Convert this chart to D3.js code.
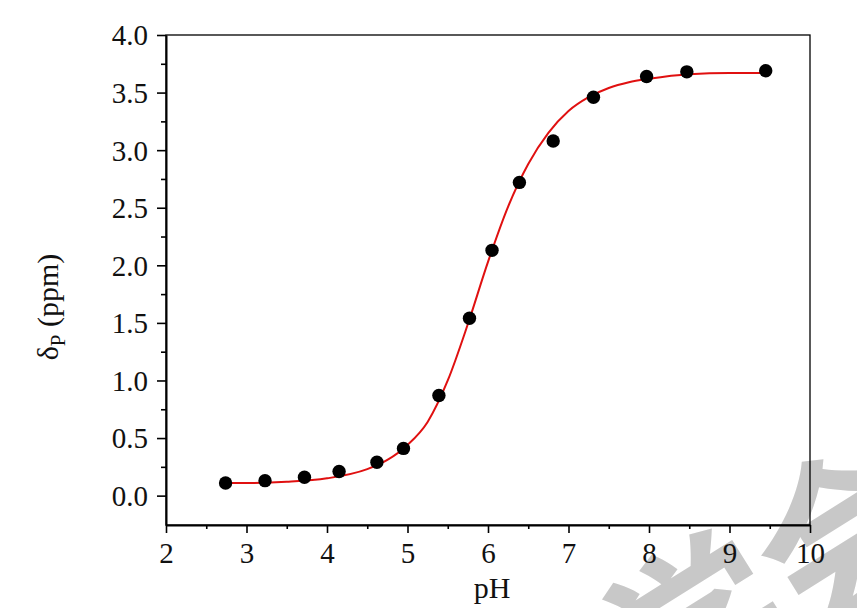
<!DOCTYPE html>
<html>
<head>
<meta charset="utf-8">
<script src="https://cdn.jsdelivr.net/npm/d3@7"></script>
<style>
  html, body { margin: 0; padding: 0; background: #fff; }
  svg text { font-family: "Liberation Serif", "Times New Roman", serif; fill: #111; }
</style>
</head>
<body>
<svg id="chart" width="857" height="608"></svg>
<script>
// measured points
const phValues = [2.74, 3.23, 3.72, 4.15, 4.62, 4.95, 5.39, 5.77, 6.05, 6.39, 6.81, 7.31, 7.97, 8.47, 9.45];
const shiftValues = [0.11, 0.13, 0.16, 0.21, 0.29, 0.41, 0.87, 1.54, 2.13, 2.72, 3.08, 3.46, 3.64, 3.68, 3.69];

// fitted curve
const fitPh = [2.74, 3.0, 3.5, 4.0, 4.5, 4.75, 5.0, 5.25, 5.5, 5.75, 6.0, 6.25, 6.5, 6.75, 7.0, 7.25, 7.5, 7.75, 8.0, 8.5, 9.0, 9.45];
const fitShift = [0.11, 0.11, 0.12, 0.15, 0.23, 0.31, 0.44, 0.64, 1.0, 1.49, 2.03, 2.51, 2.88, 3.15, 3.34, 3.46, 3.54, 3.59, 3.62, 3.66, 3.67, 3.67];

const xTicks = [2, 3, 4, 5, 6, 7, 8, 9, 10];
const yTicks = [0.0, 0.5, 1.0, 1.5, 2.0, 2.5, 3.0, 3.5, 4.0];

const svg = d3.select("#chart");
const plotL = 166, plotR = 810, plotT = 35, plotB = 525;

const x = d3.scaleLinear().domain([2, 10]).range([plotL, plotR]);
const y = d3.scaleLinear().domain([-0.255, 4.0]).range([plotB, plotT]);

// watermark
svg.append("text")
  .attr("transform", "translate(655,735) rotate(-32)")
  .style("font-family", "'Noto Sans CJK SC'")
  .style("font-weight", "bold")
  .style("font-size", "180px")
  .style("fill", "#c8c8c8")
  .text("学会");

// frame
svg.append("rect")
  .attr("x", plotL).attr("y", plotT)
  .attr("width", plotR - plotL).attr("height", plotB - plotT)
  .attr("fill", "none").attr("stroke", "#000").attr("stroke-width", 1.3);

// x axis
const xAxis = svg.append("g").attr("transform", `translate(0,${plotB})`)
  .call(d3.axisBottom(x).tickValues(xTicks).tickFormat(d3.format("d")).tickSizeInner(8).tickSizeOuter(0));
svg.append("g").attr("transform", `translate(0,${plotB})`)
  .call(d3.axisBottom(x).tickValues(d3.range(2.5, 10, 1)).tickFormat("").tickSizeInner(4).tickSizeOuter(0))
  .call(g => g.select(".domain").remove());

// y axis
const yAxis = svg.append("g").attr("transform", `translate(${plotL},0)`)
  .call(d3.axisLeft(y).tickValues(yTicks).tickFormat(d3.format(".1f")).tickSizeInner(9).tickSizeOuter(0));
svg.append("g").attr("transform", `translate(${plotL},0)`)
  .call(d3.axisLeft(y).tickValues(d3.range(0.25, 4, 0.5)).tickFormat("").tickSizeInner(5).tickSizeOuter(0))
  .call(g => g.select(".domain").remove());

svg.selectAll(".domain").attr("stroke", "#000").attr("stroke-width", 2);
svg.selectAll(".tick line").attr("stroke", "#000").attr("stroke-width", 1.6);
xAxis.selectAll(".tick text")
  .attr("y", 38).attr("dy", 0)
  .style("font-size", "29px").attr("fill", "#111");
yAxis.selectAll(".tick text")
  .attr("x", -18).attr("dy", "0.34em")
  .style("font-size", "29px").attr("fill", "#111");

// fitted line
svg.append("path")
  .datum(fitPh.map((p, i) => [p, fitShift[i]]))
  .attr("fill", "none")
  .attr("stroke", "#e01010")
  .attr("stroke-width", 2)
  .attr("d", d3.line().x(d => x(d[0])).y(d => y(d[1])).curve(d3.curveMonotoneX));

// points
svg.append("g").selectAll("circle")
  .data(phValues.map((p, i) => [p, shiftValues[i]]))
  .join("circle")
  .attr("cx", d => x(d[0]))
  .attr("cy", d => y(d[1]))
  .attr("r", 6.7)
  .attr("fill", "#000");

// axis titles
svg.append("text")
  .attr("x", 492).attr("y", 598)
  .attr("text-anchor", "middle")
  .style("font-size", "30px")
  .text("pH");

const yt = svg.append("text")
  .attr("transform", "translate(58,307) rotate(-90)")
  .attr("text-anchor", "middle")
  .style("font-size", "30px");
yt.append("tspan").text("δ");
yt.append("tspan").attr("dy", 7).style("font-size", "21px").text("P");
yt.append("tspan").attr("dy", -7).text(" (ppm)");
</script>
</body>
</html>
